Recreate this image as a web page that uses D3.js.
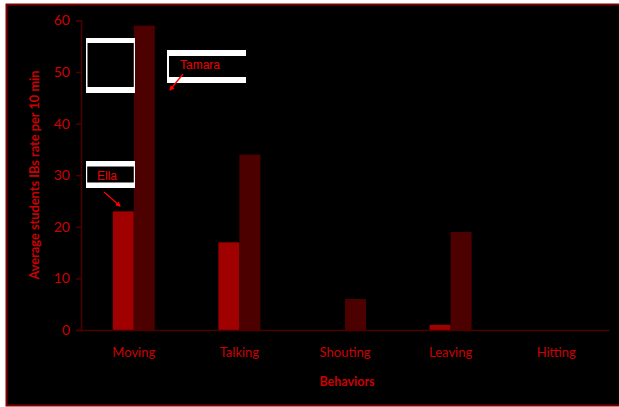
<!DOCTYPE html>
<html>
<head>
<meta charset="utf-8">
<script src="https://cdn.jsdelivr.net/npm/d3@7"></script>
<style>
  body { margin: 0; background: #fff; }
  svg { display: block; }
</style>
</head>
<body>
<div id="chart"></div>
<script>
var categories = ['Moving', 'Talking', 'Shouting', 'Leaving', 'Hitting'];
var seriesNames = ['Ella', 'Tamara'];
var ella = [23, 17, 0, 1, 0];
var tamara = [59, 34, 6, 19, 0];
var yTicks = [0, 10, 20, 30, 40, 50, 60];

var W = 619, H = 407;
var margin = { top: 20.5, right: 10, bottom: 77, left: 81 };
var width = 609 - margin.left;
var height = 330 - margin.top;
var colors = ['#a00000', '#4d0000'];
var textColor = '#cc0000';
var axisColor = '#4d0000';

var svg = d3.select('#chart')
  .append('svg')
    .attr('width', W)
    .attr('height', H);

// chart area background + border
svg.append('rect')
  .attr('x', 6.5).attr('y', 4.5)
  .attr('width', W).attr('height', 401)
  .attr('fill', '#000')
  .attr('stroke', '#800000')
  .attr('stroke-width', 2);

var g = svg.append('g')
  .attr('transform', `translate(${margin.left}, ${margin.top})`);

var x = d3.scaleBand().domain(categories).range([0, width]);
var xs = d3.scaleBand().domain(seriesNames).range([x.bandwidth() / 2 - 21, x.bandwidth() / 2 + 21]);
var y = d3.scaleLinear().domain([0, 60]).range([height, 0]);

var data = categories.map((c, i) => ({ cat: c, vals: [ella[i], tamara[i]] }));

// bars
var groups = g.selectAll('.grp')
  .data(data)
  .enter().append('g')
    .attr('class', 'grp')
    .attr('transform', d => `translate(${x(d.cat)}, 0)`);

groups.selectAll('rect')
  .data(d => d.vals.map((v, j) => ({ key: seriesNames[j], v: v, j: j })))
  .enter().append('rect')
    .attr('x', d => xs(d.key))
    .attr('width', xs.bandwidth())
    .attr('y', d => y(d.v))
    .attr('height', d => height - y(d.v))
    .attr('fill', d => colors[d.j]);

// y axis
var yAxis = g.append('g')
  .call(d3.axisLeft(y).tickValues(yTicks).tickSize(5).tickPadding(6));
yAxis.select('.domain').attr('stroke', axisColor).attr('stroke-width', 1.5);
yAxis.selectAll('.tick line').attr('stroke', axisColor).attr('stroke-width', 1.5);
yAxis.selectAll('.tick text')
  .attr('fill', textColor)
  .style('font-family', 'Lato, "Open Sans", sans-serif')
  .style('font-size', '14px');

// x axis
var xAxis = g.append('g')
  .attr('transform', `translate(0, ${height})`)
  .call(d3.axisBottom(x).tickSize(0).tickPadding(18));
xAxis.select('.domain').attr('stroke', axisColor).attr('stroke-width', 1.5);
xAxis.selectAll('.tick text')
  .attr('fill', textColor)
  .style('font-family', 'Lato, "Open Sans", sans-serif')
  .style('font-size', '13px');

// axis titles
svg.append('text')
  .attr('x', margin.left + width / 2 + 2)
  .attr('y', 386)
  .attr('text-anchor', 'middle')
  .attr('fill', textColor)
  .style('font-family', 'Lato, "Open Sans", sans-serif')
  .style('font-weight', 'bold')
  .style('font-size', '12.5px')
  .text('Behaviors');

svg.append('text')
  .attr('transform', 'translate(39, 175) rotate(-90)')
  .attr('text-anchor', 'middle')
  .attr('fill', textColor)
  .style('font-family', 'Lato, "Open Sans", sans-serif')
  .style('font-weight', 'bold')
  .style('font-size', '12.8px')
  .text('Average students IBs rate per 10 min');

// annotation frames
function frame(x0, y0, w, h, top, bottom, left, right) {
  var a = svg.append('g');
  a.append('rect').attr('x', x0).attr('y', y0).attr('width', w).attr('height', top).attr('fill', '#fff');
  a.append('rect').attr('x', x0).attr('y', y0 + h - bottom).attr('width', w).attr('height', bottom).attr('fill', '#fff');
  if (left) a.append('rect').attr('x', x0).attr('y', y0).attr('width', left).attr('height', h).attr('fill', '#fff');
  if (right) a.append('rect').attr('x', x0 + w - right).attr('y', y0).attr('width', right).attr('height', h).attr('fill', '#fff');
}
frame(86, 38, 49, 55, 5, 6, 1.5, 1.2);
frame(167, 50, 79, 33, 6, 6, 2, 0);
frame(86, 161, 49, 27, 5.5, 5.5, 1.2, 1.2);

var defs = svg.append('defs');
defs.append('marker')
  .attr('id', 'arr')
  .attr('viewBox', '0 0 10 10')
  .attr('refX', 8).attr('refY', 5)
  .attr('markerWidth', 4).attr('markerHeight', 4)
  .attr('orient', 'auto')
  .append('path').attr('d', 'M0,0 L10,5 L0,10 z').attr('fill', '#ff0000');

svg.append('text')
  .attr('x', 180).attr('y', 69)
  .attr('fill', '#ee0000')
  .style('font-family', '"Liberation Sans", Arial, sans-serif')
  .style('font-size', '12px')
  .text(seriesNames[1]);
svg.append('line')
  .attr('x1', 183).attr('y1', 74).attr('x2', 170).attr('y2', 90)
  .attr('stroke', '#ff0000').attr('stroke-width', 1.3)
  .attr('marker-end', 'url(#arr)');

svg.append('text')
  .attr('x', 97).attr('y', 180)
  .attr('fill', '#ee0000')
  .style('font-family', '"Liberation Sans", Arial, sans-serif')
  .style('font-size', '12px')
  .text(seriesNames[0]);
svg.append('line')
  .attr('x1', 104).attr('y1', 192).attr('x2', 120).attr('y2', 206)
  .attr('stroke', '#ff0000').attr('stroke-width', 1.3)
  .attr('marker-end', 'url(#arr)');
</script>
</body>
</html>
